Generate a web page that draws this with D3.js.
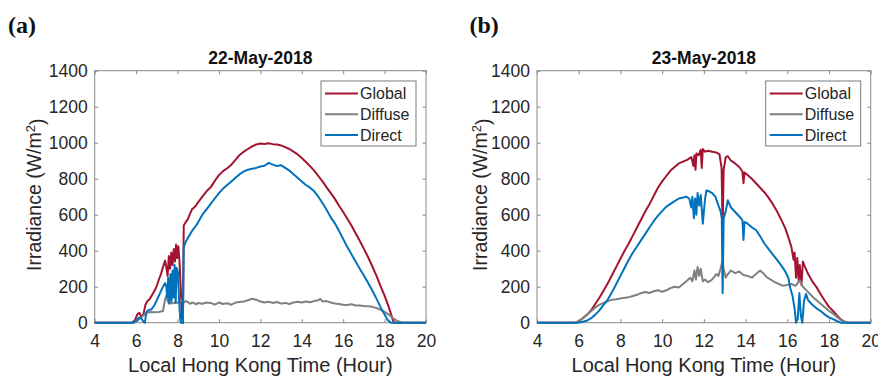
<!DOCTYPE html>
<html>
<head>
<meta charset="utf-8">
<script src="https://cdn.jsdelivr.net/npm/d3@7"></script>
<style>
  body { margin: 0; background: #fff; }
  svg { display: block; font-family: "Liberation Sans", Arial, sans-serif; }
</style>
</head>
<body>
<script>
// ---- data ----
var xTicks = [4, 6, 8, 10, 12, 14, 16, 18, 20];
var yTicks = [0, 200, 400, 600, 800, 1000, 1200, 1400];
var seriesNames = ["Global", "Diffuse", "Direct"];
var seriesColors = ["#a2142f", "#808080", "#0072bd"];

// 22-May-2018
var tGlobalA = [4,5.8,5.95,6.05,6.15,6.25,6.35,6.45,6.55,6.65,6.75,6.9,7.0,7.1,7.2,7.3,7.4,7.47,7.52,7.58,7.64,7.7,7.76,7.82,7.88,7.93,7.98,8.04,8.1,8.16,8.22,8.26,8.3,8.4,8.5,8.6,8.7,8.8,8.9,9.0,9.2,9.4,9.6,9.8,10.0,10.2,10.4,10.6,10.8,11.0,11.2,11.4,11.6,11.8,12.0,12.2,12.4,12.6,12.8,13.0,13.2,13.4,13.6,13.8,14.0,14.2,14.4,14.6,14.8,15.0,15.2,15.4,15.6,15.8,16.0,16.2,16.4,16.6,16.8,17.0,17.2,17.4,17.6,17.8,18.0,18.2,18.3,18.38,18.45,20];
var vGlobalA = [0,0,15,45,55,35,45,100,120,130,150,180,205,240,270,310,345,300,260,370,300,390,320,410,340,435,360,425,330,180,20,0,540,560,575,605,630,640,652,670,700,730,752,788,820,842,858,878,905,932,950,965,980,990,995,993,997,992,990,985,975,965,950,935,915,893,870,845,815,785,752,720,688,650,615,578,540,497,455,410,365,315,263,205,150,88,52,22,0,0];

var tDiffuseA = [4,5.9,6.05,6.2,6.35,6.5,6.7,6.9,7.1,7.3,7.38,7.45,7.52,7.6,7.7,7.8,7.9,8.0,8.1,8.2,8.3,8.4,8.5,8.6,8.7,8.8,8.9,9.0,9.2,9.4,9.6,9.8,10.0,10.2,10.4,10.6,10.8,11.0,11.2,11.4,11.6,11.8,12.0,12.2,12.4,12.6,12.8,13.0,13.2,13.4,13.6,13.8,14.0,14.2,14.4,14.6,14.8,14.9,15.0,15.2,15.4,15.6,15.8,16.0,16.2,16.4,16.6,16.8,17.0,17.2,17.4,17.6,17.8,18.0,18.2,18.4,18.6,18.8,18.95,20];
var vDiffuseA = [0,0,10,25,40,55,60,58,60,65,120,150,120,105,110,108,115,110,118,125,112,120,115,105,112,108,102,110,105,112,110,100,112,104,108,100,112,115,118,125,133,128,118,112,116,110,115,106,110,104,112,116,112,118,114,120,125,132,118,120,112,106,104,100,98,102,96,95,93,92,88,82,72,60,45,25,10,3,0,0];

var tDirectA = [4,5.85,6.0,6.15,6.25,6.35,6.42,6.5,6.6,6.75,6.9,7.0,7.1,7.2,7.3,7.4,7.46,7.5,7.55,7.6,7.66,7.71,7.76,7.81,7.86,7.91,7.96,8.02,8.08,8.13,8.16,8.26,8.3,8.4,8.5,8.6,8.7,8.8,8.9,9.0,9.2,9.4,9.6,9.8,10.0,10.2,10.4,10.6,10.8,11.0,11.2,11.4,11.6,11.8,12.0,12.2,12.4,12.6,12.8,13.0,13.2,13.4,13.6,13.8,14.0,14.2,14.4,14.6,14.8,15.0,15.2,15.4,15.6,15.8,16.0,16.2,16.4,16.6,16.8,17.0,17.2,17.4,17.6,17.8,18.0,18.15,18.3,20];
var vDirectA = [0,0,10,30,25,5,0,60,70,75,100,125,150,175,200,220,200,140,250,110,270,120,290,140,320,110,305,280,120,20,0,0,420,450,470,490,510,525,540,560,600,630,660,690,720,745,765,785,805,825,840,850,855,860,868,872,888,878,870,875,860,845,825,805,785,765,750,730,700,665,628,585,552,510,465,420,380,340,300,262,222,180,135,88,45,15,0,0];

// 23-May-2018
var tGlobalB = [4,5.85,6.0,6.2,6.4,6.6,6.8,7.0,7.2,7.4,7.6,7.8,8.0,8.2,8.4,8.6,8.8,9.0,9.2,9.4,9.6,9.8,10.0,10.2,10.4,10.6,10.8,11.0,11.2,11.4,11.5,11.55,11.6,11.65,11.75,11.85,11.9,11.95,12.05,12.2,12.4,12.6,12.75,12.85,12.9,12.95,13.05,13.15,13.3,13.5,13.7,13.85,13.9,13.95,14.1,14.3,14.5,14.7,14.9,15.1,15.3,15.5,15.7,15.9,16.05,16.2,16.3,16.35,16.42,16.48,16.55,16.6,16.68,16.75,16.85,17.0,17.2,17.4,17.6,17.8,18.0,18.2,18.4,18.6,18.8,18.9,20];
var vGlobalB = [0,0,8,25,45,70,105,140,180,220,265,310,355,400,440,485,530,575,620,660,705,750,785,815,845,865,885,895,905,920,870,930,850,940,930,960,860,965,950,955,950,945,935,860,530,850,920,925,900,885,865,840,775,835,820,800,775,750,725,695,660,620,575,525,475,420,350,390,250,360,230,320,210,340,310,270,230,198,158,122,88,65,38,15,3,0,0];

var tDiffuseB = [4,5.85,6.0,6.2,6.4,6.6,6.8,7.0,7.2,7.4,7.6,7.8,8.0,8.2,8.4,8.6,8.8,9.0,9.2,9.4,9.6,9.8,10.0,10.2,10.4,10.6,10.8,11.0,11.2,11.35,11.45,11.55,11.62,11.7,11.78,11.85,11.95,12.05,12.2,12.35,12.5,12.6,12.7,12.8,12.9,12.95,13.05,13.15,13.3,13.5,13.7,13.9,14.1,14.3,14.5,14.7,14.85,15.0,15.2,15.4,15.6,15.8,16.0,16.2,16.4,16.6,16.75,17.0,17.25,17.5,17.75,18.0,18.2,18.4,18.6,18.8,18.9,20];
var vDiffuseB = [0,0,8,25,45,65,85,100,110,120,128,130,135,138,142,148,155,165,170,165,175,180,172,180,192,200,195,215,235,250,230,290,240,310,260,300,230,240,225,235,255,270,260,300,345,300,250,270,290,275,285,265,260,250,270,290,275,255,240,225,215,205,210,215,205,235,200,170,140,115,90,65,50,30,12,2,0,0];

var tDirectB = [4,5.95,6.2,6.4,6.6,6.8,7.0,7.2,7.4,7.6,7.8,8.0,8.2,8.4,8.6,8.8,9.0,9.2,9.4,9.6,9.8,10.0,10.2,10.4,10.6,10.8,11.0,11.15,11.3,11.4,11.45,11.52,11.58,11.64,11.7,11.78,11.85,11.95,12.05,12.12,12.25,12.4,12.55,12.7,12.8,12.86,12.9,12.95,13.05,13.15,13.3,13.5,13.7,13.85,13.9,13.95,14.1,14.3,14.5,14.7,14.9,15.1,15.3,15.5,15.7,15.9,16.05,16.15,16.25,16.35,16.42,16.5,16.58,16.65,16.72,16.8,16.9,17.0,17.2,17.4,17.6,17.8,18.0,18.2,18.4,18.55,20];
var vDirectB = [0,0,5,12,25,45,70,100,130,170,215,260,305,350,390,425,460,495,530,565,595,620,645,660,675,690,695,700,690,640,700,580,690,600,720,650,710,550,680,735,730,720,700,650,620,580,163,580,620,680,640,615,590,570,460,560,550,530,515,480,440,410,380,350,320,285,250,190,150,80,0,20,165,40,0,120,160,125,100,80,65,45,30,20,8,0,0];

// ---- layout ----
var W = 878, H = 376;
var textColor = "#262626", boxColor = "#8a8a8a";

var svg = d3.select("body").append("svg")
    .attr("width", W)
    .attr("height", H);

function zip(ts, vs) {
    return ts.map(function (t, i) { return { t: t, v: vs[i] }; });
}

function drawPanel(p) {
    var x = d3.scaleLinear().domain([4, 20]).range([p.left, p.right]);
    var y = d3.scaleLinear().domain([0, 1400]).range([322.7, 70.7]);

    var g = svg.append("g");

    // panel letter
    g.append("text")
        .attr("x", p.letterX)
        .attr("y", 33)
        .style("font-family", "'Liberation Serif', 'Times New Roman', serif")
        .style("font-weight", "bold")
        .style("font-size", "24px")
        .style("fill", "#111")
        .text(p.letter);

    // box
    g.append("rect")
        .attr("x", x(4)).attr("y", y(1400))
        .attr("width", x(20) - x(4)).attr("height", y(0) - y(1400))
        .attr("fill", "none")
        .attr("stroke", boxColor)
        .attr("stroke-width", 1);

    // axes with inward ticks
    var xAxis = d3.axisBottom(x).tickValues(xTicks).tickFormat(d3.format("d"))
        .tickSizeInner(-3.5).tickSizeOuter(0).tickPadding(11.5);
    var yAxis = d3.axisLeft(y).tickValues(yTicks).tickFormat(d3.format("d"))
        .tickSizeInner(-3.5).tickSizeOuter(0).tickPadding(7);

    var gx = g.append("g").attr("transform", "translate(0," + y(0) + ")").call(xAxis);
    var gy = g.append("g").attr("transform", "translate(" + x(4) + ",0)").call(yAxis);
    var gt = g.append("g").attr("transform", "translate(0," + y(1400) + ")")
        .call(d3.axisTop(x).tickValues(xTicks).tickSizeInner(-3.5).tickSizeOuter(0).tickFormat(""));
    var gr = g.append("g").attr("transform", "translate(" + x(20) + ",0)")
        .call(d3.axisRight(y).tickValues(yTicks).tickSizeInner(-3.5).tickSizeOuter(0).tickFormat(""));

    [gx, gy, gt, gr].forEach(function (a) {
        a.select(".domain").remove();
        a.selectAll(".tick line").attr("stroke", boxColor);
        a.selectAll(".tick text")
            .style("font-family", "'Liberation Sans', Arial, sans-serif")
            .style("font-size", "17.5px")
            .style("fill", textColor);
    });

    // curves
    var line = d3.line()
        .x(function (d) { return x(d.t); })
        .y(function (d) { return y(d.v); });

    p.series.forEach(function (s, i) {
        g.append("path")
            .datum(s)
            .attr("fill", "none")
            .attr("stroke", seriesColors[i])
            .attr("stroke-width", 2)
            .attr("stroke-linejoin", "round")
            .attr("d", line);
    });

    // title
    g.append("text")
        .attr("x", (p.left + p.right) / 2)
        .attr("y", 63.5)
        .attr("text-anchor", "middle")
        .style("font-weight", "bold")
        .style("font-size", "17.5px")
        .style("fill", "#111")
        .text(p.title);

    // x label
    g.append("text")
        .attr("x", (p.left + p.right) / 2)
        .attr("y", 372)
        .attr("text-anchor", "middle")
        .style("font-size", "20px")
        .style("fill", textColor)
        .text("Local Hong Kong Time (Hour)");

    // y label
    var yl = g.append("text")
        .attr("transform", "translate(" + p.yLabelX + "," + (y(700) - 2) + ") rotate(-90)")
        .attr("text-anchor", "middle")
        .style("font-size", "19.5px")
        .style("fill", textColor);
    yl.append("tspan").text("Irradiance (W/m");
    yl.append("tspan").attr("dy", "-0.45em").style("font-size", "13px").text("2");
    yl.append("tspan").attr("dy", "0.45em").text(")");

    // legend
    var lx = p.right - 105, ly = 81;
    g.append("rect")
        .attr("x", lx).attr("y", ly)
        .attr("width", 95).attr("height", 65)
        .attr("fill", "#fff")
        .attr("stroke", "#7a7a7a")
        .attr("stroke-width", 1);
    seriesNames.forEach(function (name, i) {
        var ry = ly + 12.5 + i * 20.8;
        g.append("line")
            .attr("x1", lx + 4).attr("x2", lx + 37)
            .attr("y1", ry).attr("y2", ry)
            .attr("stroke", seriesColors[i])
            .attr("stroke-width", 2);
        g.append("text")
            .attr("x", lx + 39)
            .attr("y", ry)
            .attr("dy", "0.35em")
            .style("font-size", "16px")
            .style("fill", textColor)
            .text(name);
    });
}

drawPanel({
    left: 94.7, right: 426, letter: "(a)", letterX: 8, yLabelX: 41, title: "22-May-2018",
    series: [zip(tGlobalA, vGlobalA), zip(tDiffuseA, vDiffuseA), zip(tDirectA, vDirectA)]
});
drawPanel({
    left: 537, right: 870.7, letter: "(b)", letterX: 469.5, yLabelX: 487, title: "23-May-2018",
    series: [zip(tGlobalB, vGlobalB), zip(tDiffuseB, vDiffuseB), zip(tDirectB, vDirectB)]
});
</script>
</body>
</html>
